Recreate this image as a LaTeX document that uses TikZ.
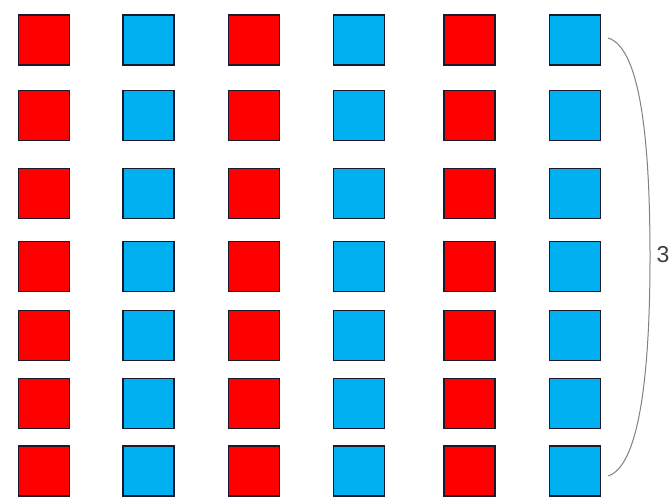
\documentclass[tikz,border=0pt]{standalone}
\usepackage{fontspec}
\setmainfont{Liberation Sans}
\definecolor{sqred}{HTML}{FF0000}
\definecolor{sqblue}{HTML}{00B0F0}
\definecolor{sqedge}{HTML}{1A1A2A}
\definecolor{bracegray}{HTML}{808080}
\begin{document}
\begin{tikzpicture}[x=1pt,y=-1pt,
  sq/.style={draw=sqedge, line width=1.7pt, minimum width=51pt, minimum height=50pt, inner sep=0pt, outer sep=0pt},
  redsq/.style={sq, fill=sqred},
  bluesq/.style={sq, fill=sqblue},
  bracecurve/.style={draw=bracegray, line width=1pt},
  lbl/.style={font=\fontsize{23}{25}\selectfont, text=black!75, inner sep=0pt}]
\useasboundingbox (0,0) rectangle (671,497);
\foreach \r/\cy in {1/40,2/115.5,3/193.5,4/266.5,5/335.5,6/403.5,7/471}{
  \foreach \c/\cx/\st in {1/44/redsq,2/148.5/bluesq,3/254/redsq,4/359/bluesq,5/469.5/redsq,6/575/bluesq}{
    \node[\st] (s-\r-\c) at (\cx,\cy) {};
  }
}
\coordinate (btop) at (608,38);
\coordinate (bmid) at (650,257);
\coordinate (bbot) at (608,476);
\draw[bracecurve] (btop) .. controls (642,48) and (650,150) .. (bmid) .. controls (650,370) and (640,466) .. (bbot);
\node[lbl] (n3) at (663,255) {3};
\end{tikzpicture}
\end{document}
